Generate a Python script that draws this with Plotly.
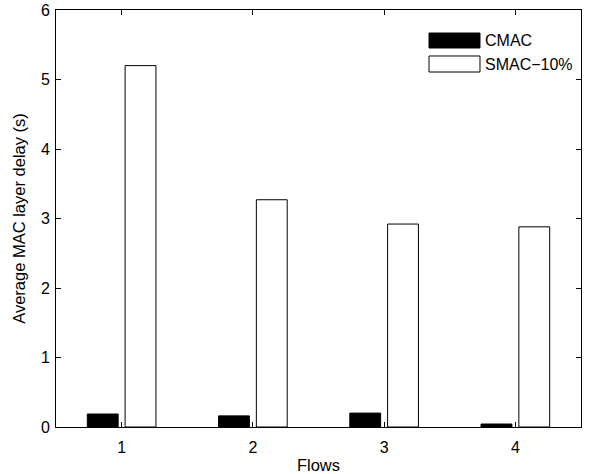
import plotly.graph_objects as go

flows = [1, 2, 3, 4]
cmac_delay = [0.187, 0.16, 0.20, 0.043]
smac10_delay = [5.20, 3.27, 2.92, 2.88]
y_ticks = [0, 1, 2, 3, 4, 5, 6]

FONT = "Liberation Sans, Arial, Helvetica, sans-serif"
BAR_W = 0.235
GAP = 0.053

fig = go.Figure()
fig.add_trace(go.Bar(
    x=flows, y=cmac_delay, name="CMAC",
    width=BAR_W, offset=-(GAP / 2 + BAR_W),
    marker=dict(color="black", line=dict(color="black", width=1)),
    showlegend=False,
))
fig.add_trace(go.Bar(
    x=flows, y=smac10_delay, name="SMAC\u221210%",
    width=BAR_W, offset=GAP / 2,
    marker=dict(color="white", line=dict(color="black", width=1)),
    showlegend=False,
))

# legend drawn as swatches + labels in the upper right corner
legend_items = [("CMAC", "black", 0.9448, 0.9089), ("SMAC\u221210%", "white", 0.8897, 0.8513)]
shapes = []
annotations = []
for label, color, y1, y0 in legend_items:
    shapes.append(dict(type="rect", xref="paper", yref="paper",
                       x0=0.7105, x1=0.8076, y0=y0, y1=y1,
                       fillcolor=color, line=dict(color="black", width=1)))
    annotations.append(dict(xref="paper", yref="paper", x=0.813, y=(y0 + y1) / 2,
                            text=label, showarrow=False, xanchor="left", yanchor="middle",
                            font=dict(family=FONT, size=16, color="black")))

axis_common = dict(
    showline=True, linecolor="black", linewidth=1, mirror="ticks",
    ticks="inside", ticklen=5, tickcolor="black", tickwidth=1,
    showgrid=False, zeroline=False, automargin=False,
    tickfont=dict(family=FONT, size=16, color="black"),
)

fig.update_layout(
    width=589, height=474,
    margin=dict(l=56, r=8, t=10, b=47),
    paper_bgcolor="white", plot_bgcolor="white",
    barmode="overlay",
    shapes=shapes, annotations=annotations,
    xaxis=dict(range=[0.5, 4.5], tickvals=flows, ticktext=[str(f) for f in flows],
               ticklabelstandoff=6,
               title=dict(text="Flows", font=dict(family=FONT, size=16.5, color="black"), standoff=4),
               **axis_common),
    yaxis=dict(range=[0, 6], tickvals=y_ticks, ticklabelstandoff=2,
               title=dict(text="Average MAC layer delay (s)", font=dict(family=FONT, size=16.5, color="black"), standoff=11),
               **axis_common),
)

fig.write_html("out.html")
